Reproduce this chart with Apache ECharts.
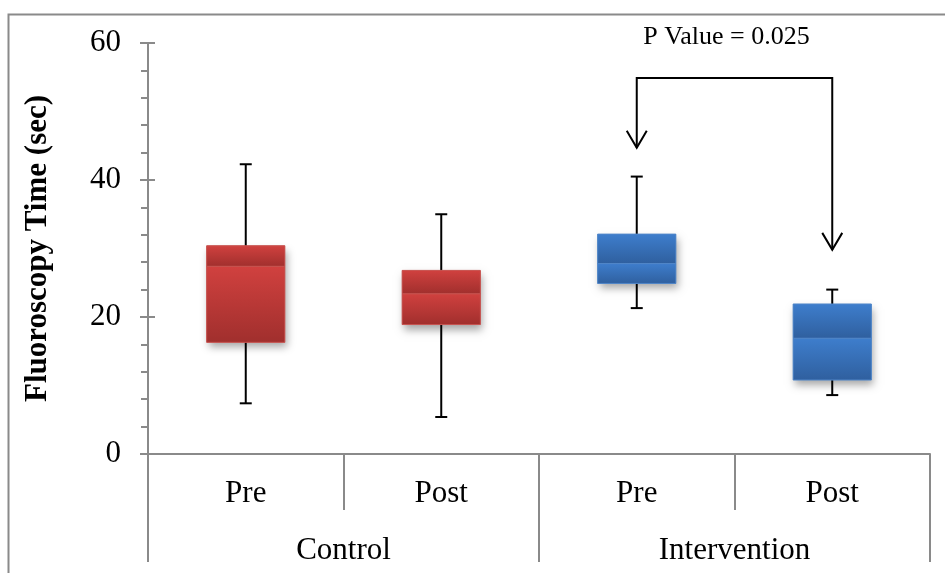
<!DOCTYPE html>
<html>
<head>
<meta charset="utf-8">
<script src="https://cdn.jsdelivr.net/npm/echarts@6/dist/echarts.min.js"></script>
<style>
html,body{margin:0;padding:0;background:#fff;}
#chart{width:945px;height:573px;}
</style>
</head>
<body>
<div id="chart"></div>
<script>
// ---- data ----
const categories = ['Pre', 'Post', 'Pre', 'Post'];
const groups = ['Control', 'Intervention'];
const whiskerLow = [7.4, 5.4, 21.3, 8.6];
const q1 = [16.3, 18.9, 24.9, 10.8];
const median = [27.4, 23.4, 27.8, 16.9];
const q3 = [30.4, 26.8, 32.1, 21.9];
const whiskerHigh = [42.3, 35.0, 40.5, 24.0];
const groupOfCategory = [0, 0, 1, 1];
const yMin = 0, yMax = 60, yInterval = 20;
const pValueText = 'P Value = 0.025';
// annotation: [fromIndex, toIndex, bracketLevel, arrowTipFrom, arrowTipTo, textLevel]
const annotation = [2, 3, 54.9, 44.7, 29.8, 60.9];

const palettes = [
  {light: '#d1413f', dark: '#a02f2d', edge: '#c85451'},
  {light: '#3e7ecd', dark: '#2f5f9e', edge: '#5187c9'}
];
const FONT = 'Liberation Serif';
const AXIS = '#8a8a8a';

const boxData = categories.map((c, i) => [i, whiskerLow[i], q1[i], median[i], q3[i], whiskerHigh[i], groupOfCategory[i]]);

function grad(p) {
  return {type: 'linear', x: 0, y: 0, x2: 0, y2: 1,
    colorStops: [{offset: 0, color: p.light}, {offset: 1, color: p.dark}]};
}

function renderBox(params, api) {
  const i = api.value(0);
  const x = api.coord([i, 0])[0];
  const bw = api.size([1, 0])[0] * 0.4;
  const yLo = api.coord([i, api.value(1)])[1];
  const yQ1 = api.coord([i, api.value(2)])[1];
  const yMed = api.coord([i, api.value(3)])[1];
  const yQ3 = api.coord([i, api.value(4)])[1];
  const yHi = api.coord([i, api.value(5)])[1];
  const p = palettes[api.value(6)];
  const cap = 6;
  const ln = {stroke: '#000', lineWidth: 2};
  return {
    type: 'group',
    children: [
      {type: 'line', shape: {x1: x, y1: yHi, x2: x, y2: yLo}, style: ln},
      {type: 'line', shape: {x1: x - cap, y1: yHi, x2: x + cap, y2: yHi}, style: ln},
      {type: 'line', shape: {x1: x - cap, y1: yLo, x2: x + cap, y2: yLo}, style: ln},
      {type: 'rect', shape: {x: x - bw / 2, y: yQ3, width: bw, height: yQ1 - yQ3},
        style: {fill: p.dark, shadowBlur: 8, shadowOffsetX: 2, shadowOffsetY: 5, shadowColor: 'rgba(0,0,0,0.35)'}},
      {type: 'rect', shape: {x: x - bw / 2, y: yMed, width: bw, height: yQ1 - yMed},
        style: {fill: grad(p), stroke: p.edge, lineWidth: 1}},
      {type: 'rect', shape: {x: x - bw / 2, y: yQ3, width: bw, height: yMed - yQ3},
        style: {fill: grad(p), stroke: p.edge, lineWidth: 1}}
    ]
  };
}

function renderAnnotation(params, api) {
  const a = api.value(0), b = api.value(1);
  const xa = api.coord([a, 0])[0];
  const xb = api.coord([b, 0])[0];
  const yB = api.coord([a, api.value(2)])[1];
  const tipA = api.coord([a, api.value(3)])[1];
  const tipB = api.coord([b, api.value(4)])[1];
  const yT = api.coord([a, api.value(5)])[1];
  const st = {stroke: '#000', lineWidth: 2, fill: null};
  const hw = 10, hh = 17;
  return {
    type: 'group',
    children: [
      {type: 'polyline', shape: {points: [[xa, tipA], [xa, yB], [xb, yB], [xb, tipB]]}, style: st},
      {type: 'polyline', shape: {points: [[xa - hw, tipA - hh], [xa, tipA], [xa + hw, tipA - hh]]}, style: st},
      {type: 'polyline', shape: {points: [[xb - hw, tipB - hh], [xb, tipB], [xb + hw, tipB - hh]]}, style: st},
      {type: 'text', x: (xa + xb) / 2 - 8, y: yT,
        style: {text: pValueText, font: '26px "' + FONT + '"', fill: '#000', align: 'center', verticalAlign: 'middle'}}
    ]
  };
}

const chart = echarts.init(document.getElementById('chart'), null, {renderer: 'canvas'});
chart.setOption({
  backgroundColor: '#fff',
  animation: false,
  textStyle: {fontFamily: FONT},
  graphic: [{
    type: 'rect', left: 6, top: 12, silent: true, z: -10,
    shape: {width: 1200, height: 800},
    style: {fill: null, stroke: AXIS, lineWidth: 2}
  }],
  grid: {left: 148, right: 15, top: 43, bottom: 119, outerBoundsMode: 'none', containLabel: false},
  xAxis: [{
    type: 'category', data: categories, position: 'bottom', boundaryGap: true,
    axisLine: {show: true, onZero: false, lineStyle: {color: AXIS, width: 2}},
    axisTick: {show: true, length: 56, lineStyle: {color: AXIS, width: 2}},
    axisLabel: {fontFamily: FONT, fontSize: 31, color: '#000', margin: 24},
    splitLine: {show: false}
  }, {
    type: 'category', data: groups, position: 'bottom', offset: 56, boundaryGap: true,
    axisLine: {show: true, onZero: false, lineStyle: {color: '#ffffff', width: 1}},
    axisTick: {show: true, interval: 0, length: 52, lineStyle: {color: AXIS, width: 2}},
    axisLabel: {fontFamily: FONT, fontSize: 31, color: '#000', margin: 25},
    splitLine: {show: false}
  }],
  yAxis: [{
    type: 'value', min: yMin, max: yMax, interval: yInterval, position: 'left',
    name: 'Fluoroscopy Time (sec)', nameLocation: 'middle', nameGap: 95, nameRotate: 90,
    nameTextStyle: {fontFamily: FONT, fontSize: 31, fontWeight: 'bold', color: '#000'},
    axisLine: {show: true, onZero: false, lineStyle: {color: AXIS, width: 2}},
    axisTick: {show: true, inside: false, length: 8, lineStyle: {color: AXIS, width: 2}},
    minorTick: {show: true, splitNumber: 5, length: 7, lineStyle: {color: AXIS, width: 2}},
    axisLabel: {fontFamily: FONT, fontSize: 31, color: '#000', margin: 27},
    splitLine: {show: false}, minorSplitLine: {show: false}
  }, {
    type: 'value', min: yMin, max: yMax, interval: yInterval, position: 'left', offset: 0,
    axisLine: {show: true, onZero: false, lineStyle: {color: AXIS, width: 2}},
    axisTick: {show: true, inside: true, length: 7, lineStyle: {color: AXIS, width: 2}},
    axisLabel: {show: false}, splitLine: {show: false}
  }],
  series: [{
    type: 'custom', name: 'box', xAxisIndex: 0, yAxisIndex: 0,
    renderItem: renderBox, data: boxData,
    encode: {x: 0, y: [1, 2, 3, 4, 5]}, z: 5
  }, {
    type: 'custom', name: 'annotation', xAxisIndex: 0, yAxisIndex: 0,
    renderItem: renderAnnotation, data: [annotation],
    encode: {x: [0, 1], y: [2, 3, 4, 5]}, z: 6, clip: false
  }]
});
</script>
</body>
</html>
